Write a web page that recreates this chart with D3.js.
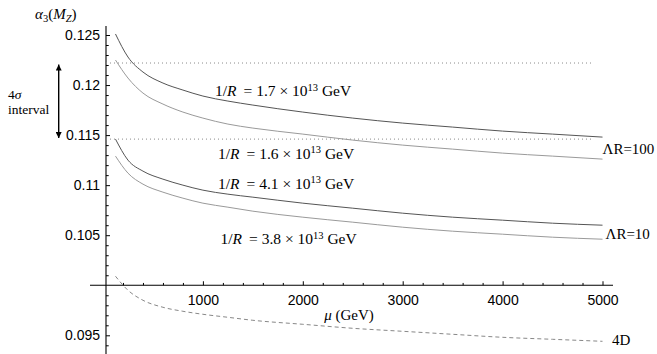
<!DOCTYPE html>
<html>
<head>
<meta charset="utf-8">
<script src="https://cdn.jsdelivr.net/npm/d3@7"></script>
<style>
  body { margin: 0; background: #fff; }
  .sans { font-family: "Liberation Sans", Arial, sans-serif; }
  .serif { font-family: "Liberation Serif", "Times New Roman", serif; }
</style>
</head>
<body>
<script>
var mu = [125, 250, 400, 600, 800, 1000, 1250, 1500, 2000, 2500, 3000, 3500, 4000, 4500, 5000]

// Lambda R = 100
var r17 = [0.1251, 0.1228, 0.1213, 0.1202, 0.1195, 0.1189, 0.1184, 0.1180, 0.1173, 0.1167, 0.1162, 0.1158, 0.1154, 0.1151, 0.1148]
var r16 = [0.1225, 0.1207, 0.1192, 0.1181, 0.1173, 0.1167, 0.1161, 0.1157, 0.1151, 0.1145, 0.1140, 0.1136, 0.1132, 0.1129, 0.1126]
// Lambda R = 10
var r41 = [0.1146, 0.1125, 0.1114, 0.1106, 0.1100, 0.1095, 0.1091, 0.1088, 0.1082, 0.1077, 0.1072, 0.1068, 0.1065, 0.1062, 0.1060]
var r38 = [0.1129, 0.1112, 0.1101, 0.1093, 0.1087, 0.1082, 0.1078, 0.1074, 0.1068, 0.1063, 0.1058, 0.1054, 0.1051, 0.1048, 0.1046]
// plain 4D running
var d4 = [0.1009, 0.0995, 0.0985, 0.0978, 0.0974, 0.0971, 0.0968, 0.0965, 0.0961, 0.0957, 0.0954, 0.0951, 0.0948, 0.0946, 0.0944]

// 4 sigma band edges
var sigmaBand = [0.1222, 0.1146]

var xTicks = [1000, 2000, 3000, 4000, 5000]
var yTicks = [0.095, 0.105, 0.11, 0.115, 0.12, 0.125]

function main() {
    var svg = d3.select('body').append('svg')
        .attr('width', 657).attr('height', 354)

    var x = d3.scaleLinear().domain([0, 5000]).range([103, 602.5])
    var y = d3.scaleLinear().domain([0.095, 0.125]).range([335.3, 35])

    var axisMu = 30          // where the vertical axis sits
    var x0 = x(axisMu), y0 = y(0.1)

    // minor ticks
    var xMinor = d3.range(200, 5001, 200).filter(function(d){ return d % 1000 !== 0 })
    var yMinor = d3.range(94, 126).map(function(d){ return d / 1000 })
        .filter(function(d){ return Math.abs(d * 200 - Math.round(d * 200)) > 1e-6 })

    // x axis line + ticks (ticks point up)
    svg.append('line').attr('x1', 90).attr('x2', 613).attr('y1', y0).attr('y2', y0)
        .attr('stroke', '#000').attr('stroke-width', 1.1)
    svg.append('g').attr('transform', `translate(0, ${y0})`)
        .call(d3.axisTop(x).tickValues(xMinor).tickSize(2.3).tickFormat(''))
        .call(function(g){ g.select('.domain').remove() })
    svg.append('g').attr('transform', `translate(0, ${y0})`)
        .call(d3.axisTop(x).tickValues(xTicks).tickSize(4).tickFormat(''))
        .call(function(g){ g.select('.domain').remove() })
    svg.append('g').attr('transform', `translate(0, ${y0})`)
        .call(d3.axisBottom(x).tickValues(xTicks).tickSize(0).tickPadding(10).tickFormat(d3.format('d')))
        .call(function(g){
            g.select('.domain').remove()
            g.selectAll('text').attr('class', 'sans').attr('font-size', 14).attr('fill', '#000')
        })

    // y axis line + ticks (ticks point right)
    svg.append('line').attr('x1', x0).attr('x2', x0).attr('y1', 26).attr('y2', 354)
        .attr('stroke', '#000').attr('stroke-width', 1.1)
    svg.append('g').attr('transform', `translate(${x0}, 0)`)
        .call(d3.axisRight(y).tickValues(yMinor).tickSize(2.7).tickFormat(''))
        .call(function(g){ g.select('.domain').remove() })
    svg.append('g').attr('transform', `translate(${x0}, 0)`)
        .call(d3.axisRight(y).tickValues(yTicks).tickSize(4).tickFormat(''))
        .call(function(g){ g.select('.domain').remove() })
    svg.append('g').attr('transform', `translate(${x0}, 0)`)
        .call(d3.axisLeft(y).tickValues(yTicks).tickSize(0).tickPadding(6).tickFormat(function(d){ return String(+d.toFixed(3)) }))
        .call(function(g){
            g.select('.domain').remove()
            g.selectAll('text').attr('class', 'sans').attr('font-size', 14).attr('fill', '#000')
        })

    // dotted 4 sigma lines
    svg.selectAll('.band').data(sigmaBand).enter().append('line')
        .attr('class', 'band')
        .attr('x1', x0).attr('x2', x(4890))
        .attr('y1', function(d){ return y(d) }).attr('y2', function(d){ return y(d) })
        .attr('stroke', '#888').attr('stroke-width', 1).attr('stroke-dasharray', '1,3')

    // curves
    var line = d3.line()
        .x(function(d){ return x(d[0]) })
        .y(function(d){ return y(d[1]) })
        .curve(d3.curveMonotoneX)

    var curves = [
        { vals: r17, color: '#555', dash: null },
        { vals: r16, color: '#9a9a9a', dash: null },
        { vals: r41, color: '#555', dash: null },
        { vals: r38, color: '#9a9a9a', dash: null },
        { vals: d4, color: '#888', dash: '4,3' }
    ]
    svg.selectAll('.curve').data(curves).enter().append('path')
        .attr('class', 'curve')
        .attr('d', function(c){ return line(mu.map(function(m, i){ return [m, c.vals[i]] })) })
        .attr('fill', 'none')
        .attr('stroke', function(c){ return c.color })
        .attr('stroke-width', 1)
        .attr('stroke-dasharray', function(c){ return c.dash })

    // 1/R labels
    var rLabels = [
        { v: '1.7', x: 215, y: 96 },
        { v: '1.6', x: 218, y: 158.5 },
        { v: '4.1', x: 218, y: 188.5 },
        { v: '3.8', x: 220.5, y: 244 }
    ]
    rLabels.forEach(function(l){
        var t = svg.append('text').attr('class', 'serif').attr('font-size', 15.5)
            .attr('x', l.x).attr('y', l.y).attr('fill', '#000')
        t.append('tspan').text('1/')
        t.append('tspan').attr('font-style', 'italic').text('R')
        t.append('tspan').text('\u2009 = ' + l.v + ' \u00d7 10')
        t.append('tspan').attr('font-size', 10.5).attr('dy', -5.5).text('13')
        t.append('tspan').attr('dy', 5.5).text(' GeV')
    })

    // right side labels
    svg.append('text').attr('class', 'serif').attr('font-size', 15)
        .attr('x', 602.5).attr('y', 154).text('\u039bR=100')
    svg.append('text').attr('class', 'serif').attr('font-size', 15)
        .attr('x', 605.5).attr('y', 238.5).text('\u039bR=10')
    svg.append('text').attr('class', 'serif').attr('font-size', 15)
        .attr('x', 612).attr('y', 345).text('4D')

    // axis titles
    var yt = svg.append('text').attr('class', 'serif').attr('font-size', 15)
        .attr('x', 35).attr('y', 18.5)
    yt.append('tspan').attr('font-style', 'italic').text('\u03b1')
    yt.append('tspan').attr('font-size', 10.5).attr('dy', 3).text('3')
    yt.append('tspan').attr('dy', -3).text('(')
    yt.append('tspan').attr('font-style', 'italic').text('M')
    yt.append('tspan').attr('font-style', 'italic').attr('font-size', 10.5).attr('dy', 3).text('Z')
    yt.append('tspan').attr('dy', -3).text(')')

    var xt = svg.append('text').attr('class', 'serif').attr('font-size', 15)
        .attr('x', 349).attr('y', 319.5).attr('text-anchor', 'middle')
    xt.append('tspan').attr('font-style', 'italic').text('\u03bc')
    xt.append('tspan').text(' (GeV)')

    // 4 sigma arrow
    svg.append('defs').append('marker')
        .attr('id', 'head').attr('viewBox', '0 0 10 10')
        .attr('refX', 10).attr('refY', 5)
        .attr('markerWidth', 6).attr('markerHeight', 6).attr('markerUnits', 'userSpaceOnUse')
        .attr('orient', 'auto-start-reverse')
        .append('path').attr('d', 'M0,0 L10,5 L0,10 Z').attr('fill', '#000')
    svg.append('line')
        .attr('x1', 58.7).attr('x2', 58.7)
        .attr('y1', y(sigmaBand[1]) - 1).attr('y2', y(sigmaBand[0]) + 1.5)
        .attr('stroke', '#000').attr('stroke-width', 1.4)
        .attr('marker-start', 'url(#head)').attr('marker-end', 'url(#head)')

    // "4 sigma" and "interval", two lines
    var st = svg.append('text').attr('class', 'serif').attr('font-size', 13.5).attr('x', 8).attr('y', 98.5)
    st.append('tspan').text('4')
    st.append('tspan').attr('font-style', 'italic').text('\u03c3')
    svg.append('text').attr('class', 'serif').attr('font-size', 13.5)
        .attr('x', 8).attr('y', 114).text('interval')
}

main()
</script>
</body>
</html>
